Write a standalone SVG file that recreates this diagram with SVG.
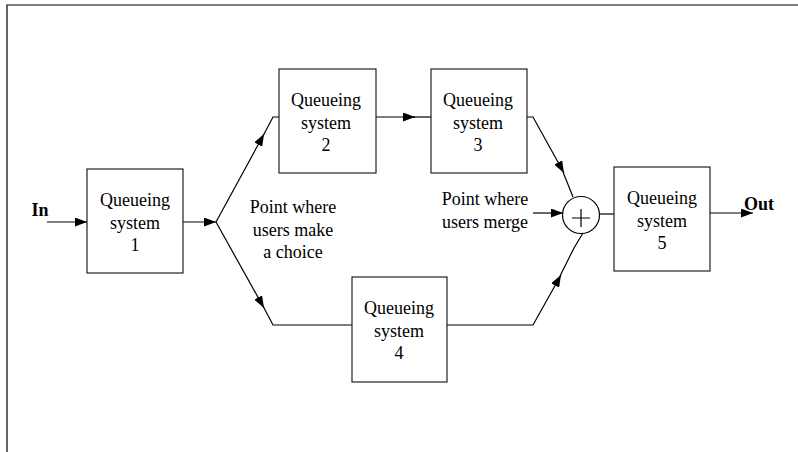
<svg xmlns="http://www.w3.org/2000/svg" width="798" height="452" viewBox="0 0 798 452">
<defs>
<marker id="ah" viewBox="0 0 12 9" refX="12" refY="4.5" markerWidth="12" markerHeight="9" markerUnits="userSpaceOnUse" orient="auto">
<path d="M0,0 L12,4.5 L0,9 Z" fill="#000"/>
</marker>
</defs>
<style>
.box{fill:#fff;stroke:#222;stroke-width:1.2}
.ln{fill:none;stroke:#000;stroke-width:1.2}
.t{font-family:"Liberation Serif","Times New Roman",serif;font-size:18px;fill:#000;text-anchor:middle}
.b{font-weight:bold}
</style>
<rect x="0" y="0" width="798" height="452" fill="#fff"/>
<g id="frame">
<path class="ln" d="M7,452 V5 H798"/>
</g>
<g id="connectors">
<path class="ln" d="M47,222 H87" marker-end="url(#ah)"/>
<path class="ln" d="M183,222 H216" marker-end="url(#ah)"/>
<path class="ln" d="M216,222 L264,134" marker-end="url(#ah)"/>
<path class="ln" d="M263,136 L273,117 H279"/>
<path class="ln" d="M216,222 L264,308" marker-end="url(#ah)"/>
<path class="ln" d="M263,306 L273,325 H352"/>
<path class="ln" d="M376,117 H415" marker-end="url(#ah)"/>
<path class="ln" d="M413,117 H431"/>
<path class="ln" d="M527,117 H533 L564,173" marker-end="url(#ah)"/>
<path class="ln" d="M563,172 L573,197"/>
<path class="ln" d="M447,325 H533 L561,275" marker-end="url(#ah)"/>
<path class="ln" d="M560,276 L574,248 L583,233"/>
<path class="ln" d="M533,213 H563" marker-end="url(#ah)"/>
<path class="ln" d="M600,214 H614"/>
<path class="ln" d="M710,213 H753" marker-end="url(#ah)"/>
</g>
<g id="merge">
<circle cx="581" cy="215" r="18.5" fill="#fff" stroke="#000" stroke-width="1.2"/>
<path class="ln" d="M572,218 H590 M581,209 V227"/>
</g>
<g id="q1">
<rect class="box" x="87" y="169" width="96" height="104"/>
<text class="t" x="135" y="206">Queueing</text>
<text class="t" x="135" y="229">system</text>
<text class="t" x="135" y="251">1</text>
</g>
<g id="q2">
<rect class="box" x="279" y="69" width="97" height="104"/>
<text class="t" x="326" y="106">Queueing</text>
<text class="t" x="326" y="129">system</text>
<text class="t" x="326" y="151">2</text>
</g>
<g id="q3">
<rect class="box" x="431" y="69" width="96" height="104"/>
<text class="t" x="478" y="106">Queueing</text>
<text class="t" x="478" y="129">system</text>
<text class="t" x="478" y="151">3</text>
</g>
<g id="q4">
<rect class="box" x="352" y="277" width="95" height="105"/>
<text class="t" x="399" y="314">Queueing</text>
<text class="t" x="399" y="337">system</text>
<text class="t" x="399" y="359">4</text>
</g>
<g id="q5">
<rect class="box" x="614" y="167" width="96" height="104"/>
<text class="t" x="662" y="204">Queueing</text>
<text class="t" x="662" y="227">system</text>
<text class="t" x="662" y="249">5</text>
</g>
<g id="labels">
<text class="t b" x="40" y="216">In</text>
<text class="t b" x="759" y="210">Out</text>
<text class="t" x="293" y="213">Point where</text>
<text class="t" x="293" y="236">users make</text>
<text class="t" x="293" y="258">a choice</text>
<text class="t" x="485" y="205">Point where</text>
<text class="t" x="485" y="228">users merge</text>
</g>
</svg>
